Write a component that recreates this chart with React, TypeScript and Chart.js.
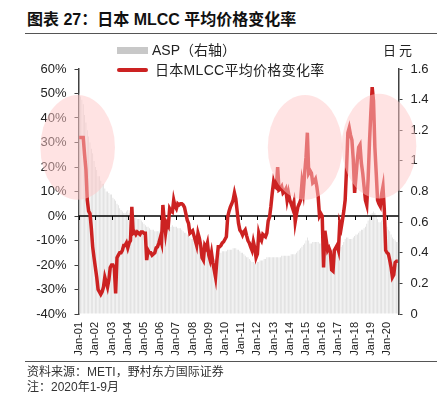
import React, { useEffect, useRef } from 'react';
import { Chart, registerables } from 'chart.js';

Chart.register(...registerables);

const FONT = '"Liberation Sans", Arial, "Noto Sans CJK SC", sans-serif';

const years = [2001, 2002, 2003, 2004, 2005, 2006, 2007, 2008, 2009, 2010, 2011, 2012, 2013, 2014, 2015, 2016, 2017, 2018, 2019, 2020];
const monthsInLastYear = 9;
const yearTicks = ['Jan-01', 'Jan-02', 'Jan-03', 'Jan-04', 'Jan-05', 'Jan-06', 'Jan-07', 'Jan-08', 'Jan-09', 'Jan-10', 'Jan-11', 'Jan-12', 'Jan-13', 'Jan-14', 'Jan-15', 'Jan-16', 'Jan-17', 'Jan-18', 'Jan-19', 'Jan-20'];

const months: string[] = [];
years.forEach((y, i) => {
  const n = i === years.length - 1 ? monthsInLastYear : 12;
  for (let m = 1; m <= n; m++) months.push(`${y}-${String(m).padStart(2, '0')}`);
});

// 日本MLCC平均价格变化率 (%), monthly
const changeRate = [
  32, 32, 32, 32, 25, 19, 6.5, 2, 1, -5, -12.6, -17,
  -21, -25, -30, -31, -32, -31, -29, -25, -27, -29, -26, -21,
  -20, -20, -21, -31.6, -17, -16, -15, -15, -14, -12, -12, -11,
  -13, -11, -10, 3.7, -7, -6.5, -7.5, -6.5, -7, -7.5, -6.5, -6.5,
  -7, -7, -18, -14, -15, -15, -16, -15.5, -15, -13, -12.6, -11,
  -9, -11, 4.5, -2, -7, -3, -4, 3, 2, 1.6, 6.5, 4,
  3, 5, 4.5, 5, 5, 4.5, 3.5, 1, -1.6, -3, -7, -6.5,
  -6, -8, -10, -12, -7, -9, -12, -17, -18, -12, -13, -11,
  -16, -18, -15, -19, -22, -25, -18, -12.6, -12.6, -12, -11, -10.5,
  -9.5, -8.5, -0.4, 2, 3.7, 5, 6.5, 9.4, 7, 2, -3, -5.7,
  -6.5, -7.8, -6.5, -5.7, -8, -10, -11, -12.6, -14, -10.5, -13, -17,
  -15.5, -7, -9, -10, -7.5, -8, -8.5, -7, -2, -0.4, 4, 9.4,
  14, 12, 11.5, 20, 10.6, 11, 12, 9.4, 10, 11, 6.5, 9.4,
  6.5, 5, 3.3, 5.5, -2.4, 1, 3.7, 5, 6.5, 13.5, 10, 17.5,
  24, 34, 17.5, 18.5, 17.5, 13.5, 14, 15, 12, 7.9, 0, 1,
  0, -21, -6, -10, -14, -13, -14.5, -22, -22.5, -14, -13, -12,
  -14, -3, -5, -1.6, 2, 6.5, 19, 34, 36, 33, 31, 23,
  9.4, 16, 23, 28, 29, 21.6, 17.5, 12, 6.5, 4.5, 15, 30,
  42, 52.6, 47, 28, 17.5, 6.5, 5, 4, 9, 12, 2.4, -14,
  -15, -15.5, -18, -21, -25, -24, -19, -18.5, -18.5,
];

// ASP (日元, right axis), monthly
const asp = [
  1.44, 1.42, 1.40, 1.37, 1.30, 1.25, 1.20, 1.16, 1.12, 1.08, 1.05, 1.00,
  0.96, 0.94, 0.90, 0.90, 0.87, 0.85, 0.85, 0.82, 0.80, 0.80, 0.79, 0.78,
  0.78, 0.76, 0.75, 0.74, 0.72, 0.71, 0.69, 0.68, 0.67, 0.66, 0.66, 0.67,
  0.68, 0.66, 0.65, 0.65, 0.64, 0.63, 0.63, 0.62, 0.62, 0.62, 0.61, 0.60,
  0.59, 0.58, 0.57, 0.57, 0.56, 0.55, 0.55, 0.55, 0.54, 0.54, 0.54, 0.54,
  0.55, 0.55, 0.55, 0.56, 0.56, 0.57, 0.57, 0.57, 0.57, 0.58, 0.57, 0.57,
  0.57, 0.56, 0.56, 0.56, 0.55, 0.54, 0.53, 0.53, 0.52, 0.51, 0.50, 0.49,
  0.49, 0.48, 0.47, 0.46, 0.45, 0.44, 0.44, 0.43, 0.42, 0.42, 0.41, 0.41,
  0.40, 0.39, 0.38, 0.37, 0.36, 0.35, 0.36, 0.38, 0.40, 0.40, 0.41, 0.41,
  0.41, 0.41, 0.42, 0.42, 0.42, 0.42, 0.43, 0.43, 0.43, 0.42, 0.42, 0.41,
  0.40, 0.40, 0.39, 0.38, 0.37, 0.37, 0.36, 0.35, 0.34, 0.34, 0.33, 0.33,
  0.34, 0.34, 0.35, 0.35, 0.35, 0.36, 0.36, 0.37, 0.37, 0.37, 0.37, 0.37,
  0.37, 0.37, 0.37, 0.37, 0.37, 0.37, 0.38, 0.38, 0.38, 0.38, 0.38, 0.38,
  0.38, 0.39, 0.39, 0.39, 0.39, 0.40, 0.41, 0.42, 0.43, 0.44, 0.45, 0.46,
  0.48, 0.50, 0.48, 0.46, 0.46, 0.47, 0.47, 0.47, 0.47, 0.47, 0.46, 0.46,
  0.45, 0.45, 0.44, 0.44, 0.43, 0.43, 0.42, 0.42, 0.42, 0.41, 0.41, 0.41,
  0.42, 0.43, 0.44, 0.45, 0.47, 0.49, 0.50, 0.50, 0.49, 0.49, 0.49, 0.50,
  0.51, 0.52, 0.52, 0.53, 0.54, 0.55, 0.55, 0.56, 0.57, 0.59, 0.61, 0.63,
  0.65, 0.66, 0.67, 0.66, 0.64, 0.62, 0.60, 0.60, 0.61, 0.62, 0.60, 0.58,
  0.57, 0.55, 0.54, 0.52, 0.50, 0.49, 0.48, 0.47, 0.47,
];

// highlight ellipses: centre (month index, %), radii (months, %)
const highlightCenters = [
  { month: -1.1, value: 28 },
  { month: 167.3, value: 28 },
  { month: 222.1, value: 28.5 },
];
const highlightRadius = { months: 27.6, value: 21.4 };

const zeroLinePlugin = {
  id: 'zeroLine',
  beforeDatasetDraw(chart: any, args: any) {
    if (args.index !== 0) return;
    const { ctx, chartArea, scales } = chart;
    const y0 = scales.y.getPixelForValue(0);
    ctx.save();
    ctx.strokeStyle = '#000';
    ctx.lineWidth = 1.5;
    ctx.beginPath();
    ctx.moveTo(chartArea.left, y0);
    ctx.lineTo(chartArea.right, y0);
    ctx.stroke();
    ctx.lineWidth = 1;
    ctx.beginPath();
    for (let i = 0; i < yearTicks.length; i++) {
      const x = Math.round(scales.x.getPixelForValue(i * 12)) + 0.5;
      ctx.moveTo(x, y0);
      ctx.lineTo(x, y0 + 4);
    }
    ctx.stroke();
    ctx.restore();
  },
};

const ellipsePlugin = {
  id: 'ellipses',
  afterDraw(chart: any) {
    const { ctx, scales } = chart;
    const rx = Math.abs(scales.x.getPixelForValue(highlightRadius.months) - scales.x.getPixelForValue(0));
    const ry = Math.abs(scales.y.getPixelForValue(0) - scales.y.getPixelForValue(highlightRadius.value));
    ctx.save();
    ctx.fillStyle = 'rgba(255,200,200,0.5)';
    highlightCenters.forEach((c) => {
      const cx = scales.x.getPixelForValue(c.month);
      const cy = scales.y.getPixelForValue(c.value);
      ctx.beginPath();
      ctx.ellipse(cx, cy, rx, ry, 0, 0, Math.PI * 2);
      ctx.fill();
    });
    ctx.restore();
  },
};

export default function App() {
  const ref = useRef<HTMLCanvasElement | null>(null);

  useEffect(() => {
    if (!ref.current) return;
    const chart = new Chart(ref.current, {
      type: 'bar',
      data: {
        labels: months,
        datasets: [
          {
            type: 'line',
            label: '日本MLCC平均价格变化率',
            data: changeRate,
            yAxisID: 'y',
            borderColor: '#cc2222',
            backgroundColor: '#cc2222',
            borderWidth: 3.5,
            pointRadius: 0,
            tension: 0,
            order: 0,
          } as any,
          {
            type: 'bar',
            label: 'ASP（右轴）',
            data: asp,
            yAxisID: 'y1',
            backgroundColor: '#dadada',
            barPercentage: 0.55,
            categoryPercentage: 1,
            order: 1,
          } as any,
        ],
      },
      options: {
        animation: false,
        responsive: false,
        maintainAspectRatio: false,
        layout: { padding: { top: 69, left: 0, right: 0, bottom: 0 } },
        plugins: { legend: { display: false }, tooltip: { enabled: false } },
        scales: {
          x: {
            type: 'category',
            offset: true,
            grid: { display: false, drawTicks: false },
            border: { display: false },
            ticks: {
              autoSkip: false,
              maxRotation: 90,
              minRotation: 90,
              padding: 8,
              color: '#222',
              font: { family: FONT, size: 11 },
              callback: (_v: any, i: number) => (i % 12 === 0 ? yearTicks[i / 12] : ''),
            },
            afterFit: (s: any) => { s.height = 83; },
          },
          y: {
            position: 'left',
            min: -40,
            max: 60,
            ticks: {
              stepSize: 10,
              padding: 8,
              color: '#222',
              font: { family: FONT, size: 13 },
              callback: (v: any) => `${v}%`,
            },
            grid: { drawOnChartArea: false, tickLength: 4, color: '#404040' },
            border: { color: '#404040', width: 1.5 },
            afterFit: (s: any) => { s.width = 78.5; },
          },
          y1: {
            position: 'right',
            min: 0,
            max: 1.6,
            ticks: {
              stepSize: 0.2,
              padding: 8,
              color: '#222',
              font: { family: FONT, size: 13 },
              callback: (v: any) => String(Number(Number(v).toFixed(1))),
            },
            grid: { drawOnChartArea: false, tickLength: 4, color: '#404040' },
            border: { color: '#404040', width: 1.5 },
            afterFit: (s: any) => { s.width = 49.5; },
          },
        },
      } as any,
      plugins: [zeroLinePlugin, ellipsePlugin],
    });
    return () => chart.destroy();
  }, []);

  const abs = (o: React.CSSProperties): React.CSSProperties => ({ position: 'absolute', whiteSpace: 'nowrap', ...o });

  return (
    <div style={{ position: 'absolute', left: 0, top: 0, width: 448, height: 397, background: '#fff', fontFamily: FONT, color: '#222', overflow: 'hidden' }}>
      <div style={abs({ left: 27, top: 12, fontSize: 16, lineHeight: '16px', fontWeight: 'bold', color: '#111' })}>图表 27：日本 MLCC 平均价格变化率</div>
      <div style={abs({ left: 25, top: 33, width: 412, height: 1, background: '#555' })} />
      <canvas ref={ref} width={448} height={397} style={{ position: 'absolute', left: 0, top: 0, width: 448, height: 397 }} />
      <div style={abs({ left: 117, top: 47, width: 31, height: 7, background: '#c8c8c8' })} />
      <div style={abs({ left: 152, top: 42, fontSize: 14, lineHeight: '16px' })}>ASP（右轴）</div>
      <div style={abs({ left: 117, top: 68, width: 31, height: 4, borderRadius: 2, background: '#cc2222' })} />
      <div style={abs({ left: 155, top: 62, fontSize: 14, lineHeight: '16px', letterSpacing: '0.3px' })}>日本MLCC平均价格变化率</div>
      <div style={abs({ left: 383, top: 43, fontSize: 13, lineHeight: '16px', letterSpacing: '3px' })}>日元</div>
      <div style={abs({ left: 25, top: 361, width: 412, height: 1, background: '#555' })} />
      <div style={abs({ left: 27, top: 365, fontSize: 12, lineHeight: '14px', color: '#333' })}>资料来源：METI，野村东方国际证券</div>
      <div style={abs({ left: 27, top: 380, fontSize: 12, lineHeight: '14px', color: '#333' })}>注：2020年1-9月</div>
    </div>
  );
}
